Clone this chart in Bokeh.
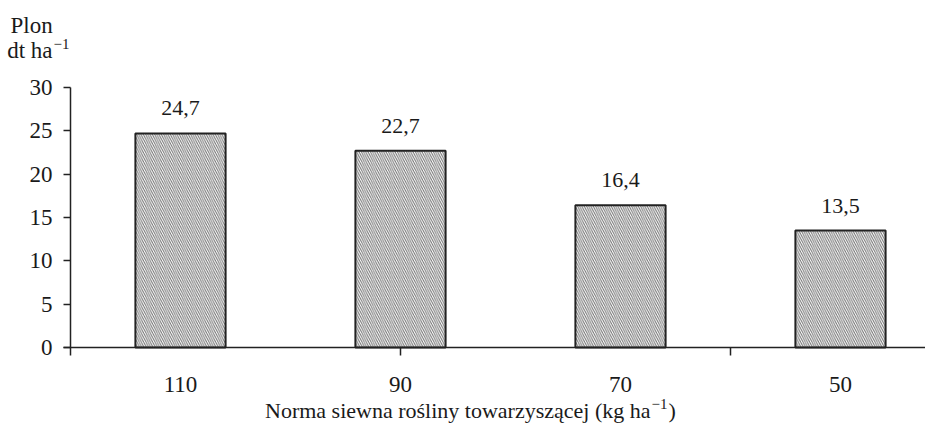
from bokeh.plotting import figure
from bokeh.models import Range1d, FixedTicker, Label, ColumnDataSource
from bokeh.core.properties import value
from bokeh.embed import file_html
from bokeh.resources import INLINE

categories = ["110", "90", "70", "50"]
yields = [24.7, 22.7, 16.4, 13.5]
y_ticks = [0, 5, 10, 15, 20, 25, 30]
x_title = "Norma siewna rośliny towarzyszącej (kg ha"
y_title_1 = "Plon"
y_title_2 = "dt ha"
sup_text = "\u22121"

FONT = "Liberation Serif"
TXT = "#1a1a1a"
W, H = 925, 424
X0, PX_X = 70, 220.0          # canvas x of category 0, px per category
Y0, PX_Y = 347, 260.0 / 30    # canvas y of value 0, px per unit
DY = 8                        # label baseline correction

centers = [i + 0.5 for i in range(len(categories))]
labels = [f"{v:.1f}".replace(".", ",") for v in yields]
src = ColumnDataSource(dict(x=centers, top=yields, lab=labels))

p = figure(width=W, height=H, output_backend="svg", toolbar_location=None,
           x_range=Range1d(-X0 / PX_X, (W - X0) / PX_X),
           y_range=Range1d(-(H - Y0) / PX_Y, Y0 / PX_Y),
           min_border_left=0, min_border_right=0, min_border_top=0,
           min_border_bottom=0)
p.outline_line_color = None
p.xgrid.visible = False
p.ygrid.visible = False
p.background_fill_color = "white"
p.border_fill_color = "white"

p.vbar(x="x", top="top", width=0.41, source=src, fill_color="white",
       line_color="#222222", line_width=2, hatch_pattern="\\",
       hatch_scale=4.5, hatch_color="#707070", hatch_weight=1)

p.text(x="x", y="top", text="lab", source=src, text_align="center",
       text_baseline="alphabetic", y_offset=-25, text_font=value(FONT),
       text_font_size="22px", text_color=TXT)

# x axis
xa = p.xaxis[0]
xa.fixed_location = 0
xa.bounds = (-0.03, (W - X0) / PX_X)
xa.ticker = FixedTicker(ticks=centers, minor_ticks=[0, 1.5, 3.0])
xa.major_label_overrides = {c: cat for c, cat in zip(centers, categories)}
xa.major_tick_line_color = None
xa.major_tick_out = 0
xa.major_tick_in = 0
xa.minor_tick_line_color = "#222222"
xa.minor_tick_line_width = 1.5
xa.minor_tick_out = 8
xa.minor_tick_in = 0
xa.major_label_standoff = 21
xa.axis_line_color = "#222222"
xa.axis_line_width = 1.5
xa.major_label_text_font = FONT
xa.major_label_text_font_size = "23px"
xa.major_label_text_color = TXT

# y axis
ya = p.yaxis[0]
ya.fixed_location = 0
ya.bounds = (0, 30)
ya.ticker = FixedTicker(ticks=y_ticks, minor_ticks=[])
ya.major_tick_out = 7
ya.major_tick_in = 0
ya.major_tick_line_color = "#222222"
ya.major_tick_line_width = 1.5
ya.minor_tick_line_color = None
ya.axis_line_color = "#222222"
ya.axis_line_width = 1.5
ya.major_label_standoff = 11
ya.major_label_text_font = FONT
ya.major_label_text_font_size = "23px"
ya.major_label_text_color = TXT

def lab(text, cx, cy, size="23px", align="left"):
    # cx, cy: canvas pixels from top-left (baseline position)
    p.add_layout(Label(x=cx, y=H - (cy - DY), x_units="screen", y_units="screen",
                       text=text, text_font=FONT, text_font_size=size,
                       text_color=TXT, text_align=align,
                       text_baseline="alphabetic"))

# y title (top-left)
lab(y_title_1, 10, 33)
lab(y_title_2, 52, 58, align="right")
lab(sup_text, 53, 51, size="15px")

# x title
lab(x_title, 650, 418, size="22px", align="right")
lab(sup_text, 651, 411, size="15px")
lab(")", 668, 418, size="22px")

open("out.html", "w").write(file_html(p, INLINE))
